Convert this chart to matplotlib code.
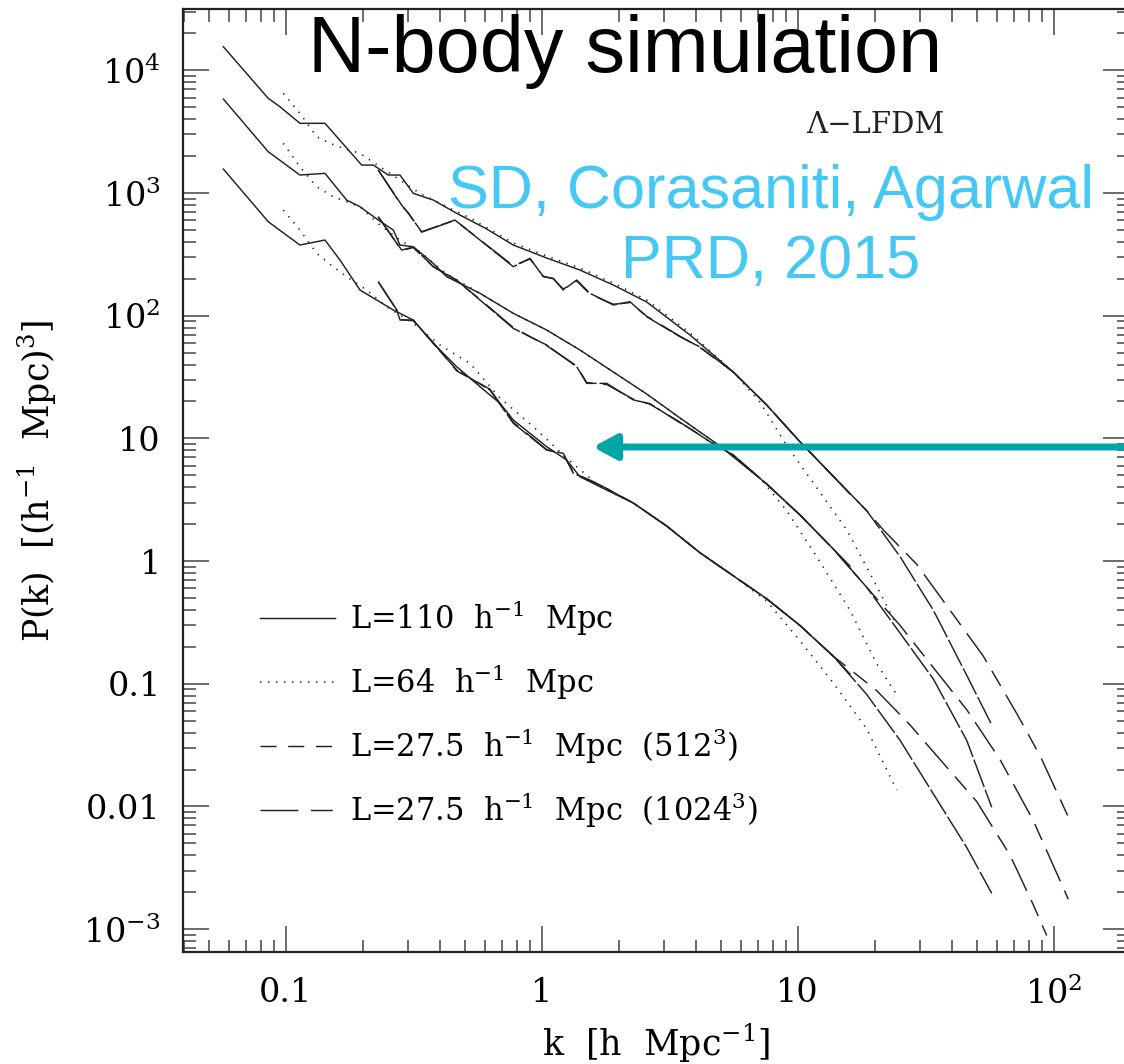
import matplotlib
matplotlib.use('Agg')
import matplotlib.pyplot as plt
from matplotlib.lines import Line2D
from matplotlib.ticker import FixedLocator, FixedFormatter, LogLocator, NullFormatter

plt.rcParams['font.family'] = ['DejaVu Serif']
plt.rcParams['mathtext.fontset'] = 'dejavuserif'

# ---------------- data ----------------
# group A (upper set of curves)
kA110 = [0.0571, 0.0855, 0.0950, 0.1137, 0.1424, 0.1981, 0.2199, 0.2517, 0.2796, 0.3150, 0.3771, 0.4656,
         0.6005, 0.7747, 1.046, 1.411, 1.905, 2.572, 3.796, 5.603, 7.566, 10.21, 13.77, 16.0]
PA110 = [15570, 5912, 5050, 3700, 3700, 1691, 1691, 1402, 1402, 994, 877, 683,
         518.6, 376.9, 295.3, 235.7, 177.9, 129.3, 69.6, 34.77, 18.72, 9.38, 4.91, 3.52]
kA64 = [0.0979, 0.1137, 0.1322, 0.1489, 0.1679, 0.1951, 0.2335, 0.2796, 0.3346, 0.4006, 0.5248, 0.7747,
        1.046, 1.411, 1.905, 2.572, 3.796, 5.603, 7.125, 9.06, 11.87, 15.54, 19.74, 24.37]
PA64 = [6494, 4461, 2876, 2542, 2314, 2107, 1638, 1276, 994, 824, 625.7, 391.3,
        306.6, 244.8, 184.7, 134.3, 72.3, 34.77, 19.8, 8.72, 3.96, 1.796, 0.7066, 0.2986]
kA512 = [0.2299, 0.2838, 0.3012, 0.3398, 0.4584, 0.7747, 0.9000, 1.0145, 1.110, 1.214, 1.370, 1.544,
         1.905, 2.213, 2.572, 3.469, 4.153, 5.603, 7.566, 10.21, 13.77, 18.60, 25.12, 33.86, 45.73, 57.27]
PA512 = [1540, 798.5, 683, 483.7, 602.6, 250.8, 293.6, 207.9, 201.7, 162.0, 195.4, 152.3,
         122.3, 130.1, 98.1, 67.4, 55.6, 34.77, 18.72, 9.38, 4.91, 2.575, 1.086, 0.398, 0.1173, 0.0462]
kA1024 = [0.2299, 0.2838, 0.3012, 0.3398, 0.4584, 0.7747, 0.9000, 1.0145, 1.110, 1.214, 1.370, 1.544,
          1.905, 2.213, 2.572, 3.469, 4.153, 5.603, 7.566, 10.21, 13.77, 18.60, 21.60, 29.16, 39.35,
          53.09, 71.71, 88.43, 114.0]
PA1024 = [1540, 790.0, 690, 480.0, 600.0, 255.0, 290.0, 210.0, 200.0, 165.0, 192.0, 150.0,
          124.0, 128.0, 99.0, 68.0, 55.0, 34.77, 18.72, 9.38, 4.91, 2.575, 1.796, 0.942, 0.398,
          0.1679, 0.0572, 0.02594, 0.00823]

# group B (middle set)
kB110 = [0.0571, 0.0855, 0.1137, 0.1424, 0.1730, 0.1951, 0.2299, 0.2633, 0.2796, 0.3150, 0.3771, 0.4255,
         0.5741, 0.7747, 1.046, 1.411, 1.905, 2.572, 3.469, 4.971, 7.566, 10.21, 13.77, 16.0]
PB110 = [5835, 2171, 1402, 1447, 877, 773.4, 602.6, 499.4, 376.9, 365.0, 267.4, 207.9,
         152.3, 104.6, 76.44, 52.54, 34.77, 23.0, 14.67, 8.67, 4.25, 2.375, 1.255, 0.912]
kB64 = [0.0979, 0.1137, 0.1322, 0.1534, 0.1951, 0.2335, 0.2796, 0.3346, 0.4255, 0.5741, 0.7747, 1.046,
        1.411, 1.905, 2.572, 3.469, 4.971, 7.125, 9.06, 11.87, 16.0, 20.35, 24.59]
PB64 = [2542, 1638, 1125, 933, 773.4, 548.5, 414.0, 330.5, 218.7, 152.3, 104.6, 76.44,
        52.54, 34.77, 23.0, 14.67, 8.67, 4.756, 2.575, 1.086, 0.398, 0.1455, 0.0791]
kB512 = [0.2299, 0.2838, 0.3150, 0.3771, 0.4656, 0.5741, 0.7747, 1.046, 1.370, 1.499, 1.794, 2.279,
         2.649, 3.368, 3.796, 4.544, 5.603, 7.566, 10.21, 13.77, 18.60, 25.12, 33.86, 45.73, 57.27]
PB512 = [641.1, 343.1, 362.9, 250.8, 195.4, 134.3, 78.9, 57.7, 38.4, 28.1, 28.1, 20.6,
         19.2, 13.91, 12.04, 9.38, 7.32, 4.25, 2.375, 1.255, 0.6115, 0.2585, 0.1094, 0.03457, 0.00985]
kB1024 = [0.2299, 0.2838, 0.3150, 0.3771, 0.4656, 0.5741, 0.7747, 1.046, 1.370, 1.499, 1.794, 2.279,
          2.649, 3.368, 3.796, 4.544, 5.603, 7.566, 10.21, 13.77, 18.60, 25.12, 33.86, 45.73, 61.69,
          83.23, 114.0]
PB1024 = [641.1, 340.0, 360.0, 252.0, 193.0, 136.0, 80.0, 57.0, 39.0, 28.5, 27.5, 20.9,
          19.0, 14.1, 12.0, 9.38, 7.32, 4.25, 2.375, 1.255, 0.6115, 0.2986, 0.1355, 0.0615, 0.02415,
          0.00766, 0.001755]

# group C (lower set)
kC110 = [0.0571, 0.0855, 0.1137, 0.1424, 0.1630, 0.1951, 0.2267, 0.2633, 0.3150, 0.3771, 0.4656, 0.5741,
         0.6875, 0.7747, 0.9000, 1.046, 1.252, 1.411, 1.689, 2.279, 3.078, 4.153, 5.603, 7.566, 10.21,
         13.77, 16.0]
PC110 = [1569, 583.6, 376.9, 414.0, 284.4, 162.0, 134.3, 111.3, 92.3, 59.6, 38.4, 26.4,
         19.32, 14.13, 11.0, 8.56, 6.67, 4.87, 4.04, 2.975, 1.932, 1.169, 0.759, 0.4929, 0.2986,
         0.1679, 0.1202]
kC64 = [0.0979, 0.1137, 0.1322, 0.1534, 0.1730, 0.2072, 0.2480, 0.3150, 0.4006, 0.5248, 0.6875, 0.9273,
        1.252, 1.689, 2.279, 3.078, 4.153, 5.603, 7.566, 10.21, 13.77, 18.60, 24.37]
PC64 = [726.6, 499.4, 322.6, 250.8, 207.9, 162.0, 118.4, 86.7, 57.7, 40.9, 21.35, 12.46,
        6.92, 4.04, 2.975, 1.932, 1.169, 0.759, 0.473, 0.2241, 0.1015, 0.0429, 0.0136]
kC512 = [0.2299, 0.2714, 0.2796, 0.3150, 0.3771, 0.4656, 0.6281, 0.7747, 1.046, 1.214, 1.329, 1.544,
         1.740, 2.279, 3.078, 4.153, 5.603, 7.566, 10.21, 13.77, 18.60, 25.12, 33.86, 45.73, 57.27]
PC512 = [189.3, 111.3, 92.3, 92.3, 59.6, 36.1, 24.8, 13.28, 8.04, 7.56, 5.19, 4.58,
         4.04, 2.975, 1.932, 1.169, 0.759, 0.4929, 0.2986, 0.1679, 0.0819, 0.03457, 0.01267,
         0.004634, 0.001958]
kC1024 = [0.2299, 0.2714, 0.2796, 0.3150, 0.3771, 0.4656, 0.6281, 0.7747, 1.046, 1.214, 1.329, 1.544,
          1.740, 2.279, 3.078, 4.153, 5.603, 7.566, 10.21, 13.77, 20.35, 27.46, 37.05, 50.04, 67.50,
          83.23, 93.9]
PC1024 = [189.3, 112.0, 93.0, 91.0, 60.5, 35.5, 25.2, 13.5, 8.1, 7.4, 5.3, 4.5,
          4.04, 2.975, 1.932, 1.169, 0.759, 0.4929, 0.2986, 0.1679, 0.0880, 0.0462, 0.02250,
          0.01096, 0.004010, 0.001578, 0.000888]

legend_labels = [r'L=110  h$^{-1}$  Mpc', r'L=64  h$^{-1}$  Mpc',
                 r'L=27.5  h$^{-1}$  Mpc  (512$^{3}$)', r'L=27.5  h$^{-1}$  Mpc  (1024$^{3}$)']
xticks = [0.1, 1, 10, 100]
xticklabels = ['0.1', '1', '10', r'10$^{2}$']
yticks = [1e-3, 1e-2, 1e-1, 1, 10, 100, 1e3, 1e4]
yticklabels = [r'10$^{-3}$', '0.01', '0.1', '1', '10', r'10$^{2}$', r'10$^{3}$', r'10$^{4}$']

# ---------------- figure ----------------
W, H = 1124, 1064
fig = plt.figure(figsize=(W / 100, H / 100), dpi=100)
ax = fig.add_axes([183 / W, 1 - 952 / H, (1129 - 183) / W, (952 - 9) / H])

lc = '#222222'
lw = 1.05
st_solid = '-'
st_dot = (0, (0.8, 4.0))
st_dash = (0, (20, 2))
st_ldash = (0, (24, 7, 12, 7))

for k, P in [(kA110, PA110), (kB110, PB110), (kC110, PC110)]:
    ax.plot(k, P, color=lc, lw=lw, ls=st_solid)
for k, P in [(kA64, PA64), (kB64, PB64), (kC64, PC64)]:
    ax.plot(k, P, color=lc, lw=1.2, ls=st_dot)
for k, P in [(kA512, PA512), (kB512, PB512), (kC512, PC512)]:
    ax.plot(k, P, color=lc, lw=lw, ls=st_dash)
for k, P in [(kA1024, PA1024), (kB1024, PB1024), (kC1024, PC1024)]:
    ax.plot(k, P, color=lc, lw=lw, ls=st_ldash)

ax.set_xscale('log')
ax.set_yscale('log')
ax.set_xlim(10 ** -1.401, 10 ** 2.294)
ax.set_ylim(10 ** -3.186, 10 ** 4.5)

ax.xaxis.set_major_locator(FixedLocator(xticks))
ax.xaxis.set_major_formatter(FixedFormatter(xticklabels))
ax.yaxis.set_major_locator(FixedLocator(yticks))
ax.yaxis.set_major_formatter(FixedFormatter(yticklabels))
ax.xaxis.set_minor_locator(LogLocator(base=10, subs=range(2, 10), numticks=50))
ax.yaxis.set_minor_locator(LogLocator(base=10, subs=range(2, 10), numticks=50))
ax.xaxis.set_minor_formatter(NullFormatter())
ax.yaxis.set_minor_formatter(NullFormatter())

ax.tick_params(which='both', direction='in', top=True, right=True, color='#444444', width=1.1)
ax.tick_params(which='major', length=19, labelsize=24)
ax.tick_params(which='minor', length=9)
ax.tick_params(axis='x', which='major', pad=18)
ax.tick_params(axis='y', which='major', pad=16)
for s in ax.spines.values():
    s.set_linewidth(1.6)
    s.set_color('#222222')

ax.set_xlabel(r'k  [h  Mpc$^{-1}$]', fontsize=25, va='center')
ax.xaxis.set_label_coords(0.5, (952 - 1043) / 943)
ax.set_ylabel(r'P(k)  [(h$^{-1}$  Mpc)$^{3}$]', fontsize=25, va='center')
ax.yaxis.set_label_coords((37 - 183) / 946, 0.5)

handles = [Line2D([], [], color=lc, lw=lw, ls='-'),
           Line2D([], [], color=lc, lw=1.2, ls=(0, (0.8, 4.0))),
           Line2D([], [], color=lc, lw=lw, ls=(0, (11, 8))),
           Line2D([], [], color=lc, lw=lw, ls=(0, (26, 8.5, 15, 8.5)))]
ax.legend(handles, legend_labels, loc='upper left', bbox_to_anchor=((260 - 183) / 946, (952 - 598) / 943),
          frameon=False, fontsize=22, handlelength=2.45, handletextpad=0.5, labelspacing=0.8,
          borderpad=0, borderaxespad=0)

fig.text(875 / W, 1 - 133 / H, 'Λ−LFDM', fontsize=21, ha='center', va='baseline', color='#222222')

fig.text(625 / W, 1 - 72 / H, 'N-body simulation', fontsize=57, ha='center', va='baseline',
         color='black', family=['Liberation Sans', 'DejaVu Sans'])
fig.text(771 / W, 1 - 208 / H, 'SD, Corasaniti, Agarwal', fontsize=44, ha='center', va='baseline',
         color='#46C8F5', family=['Liberation Sans', 'DejaVu Sans'])
fig.text(771 / W, 1 - 278 / H, 'PRD, 2015', fontsize=44, ha='center', va='baseline',
         color='#46C8F5', family=['Liberation Sans', 'DejaVu Sans'])

ax.annotate('', xy=(593 / W, 1 - 447 / H), xycoords='figure fraction',
            xytext=(1.02, 1 - 447 / H), textcoords='figure fraction',
            arrowprops=dict(arrowstyle='-|>,head_length=0.7,head_width=0.38', color='#00A6A6', lw=5,
                            shrinkA=0, shrinkB=0, mutation_scale=20),
            annotation_clip=False)

fig.savefig('out.png', dpi=100)
